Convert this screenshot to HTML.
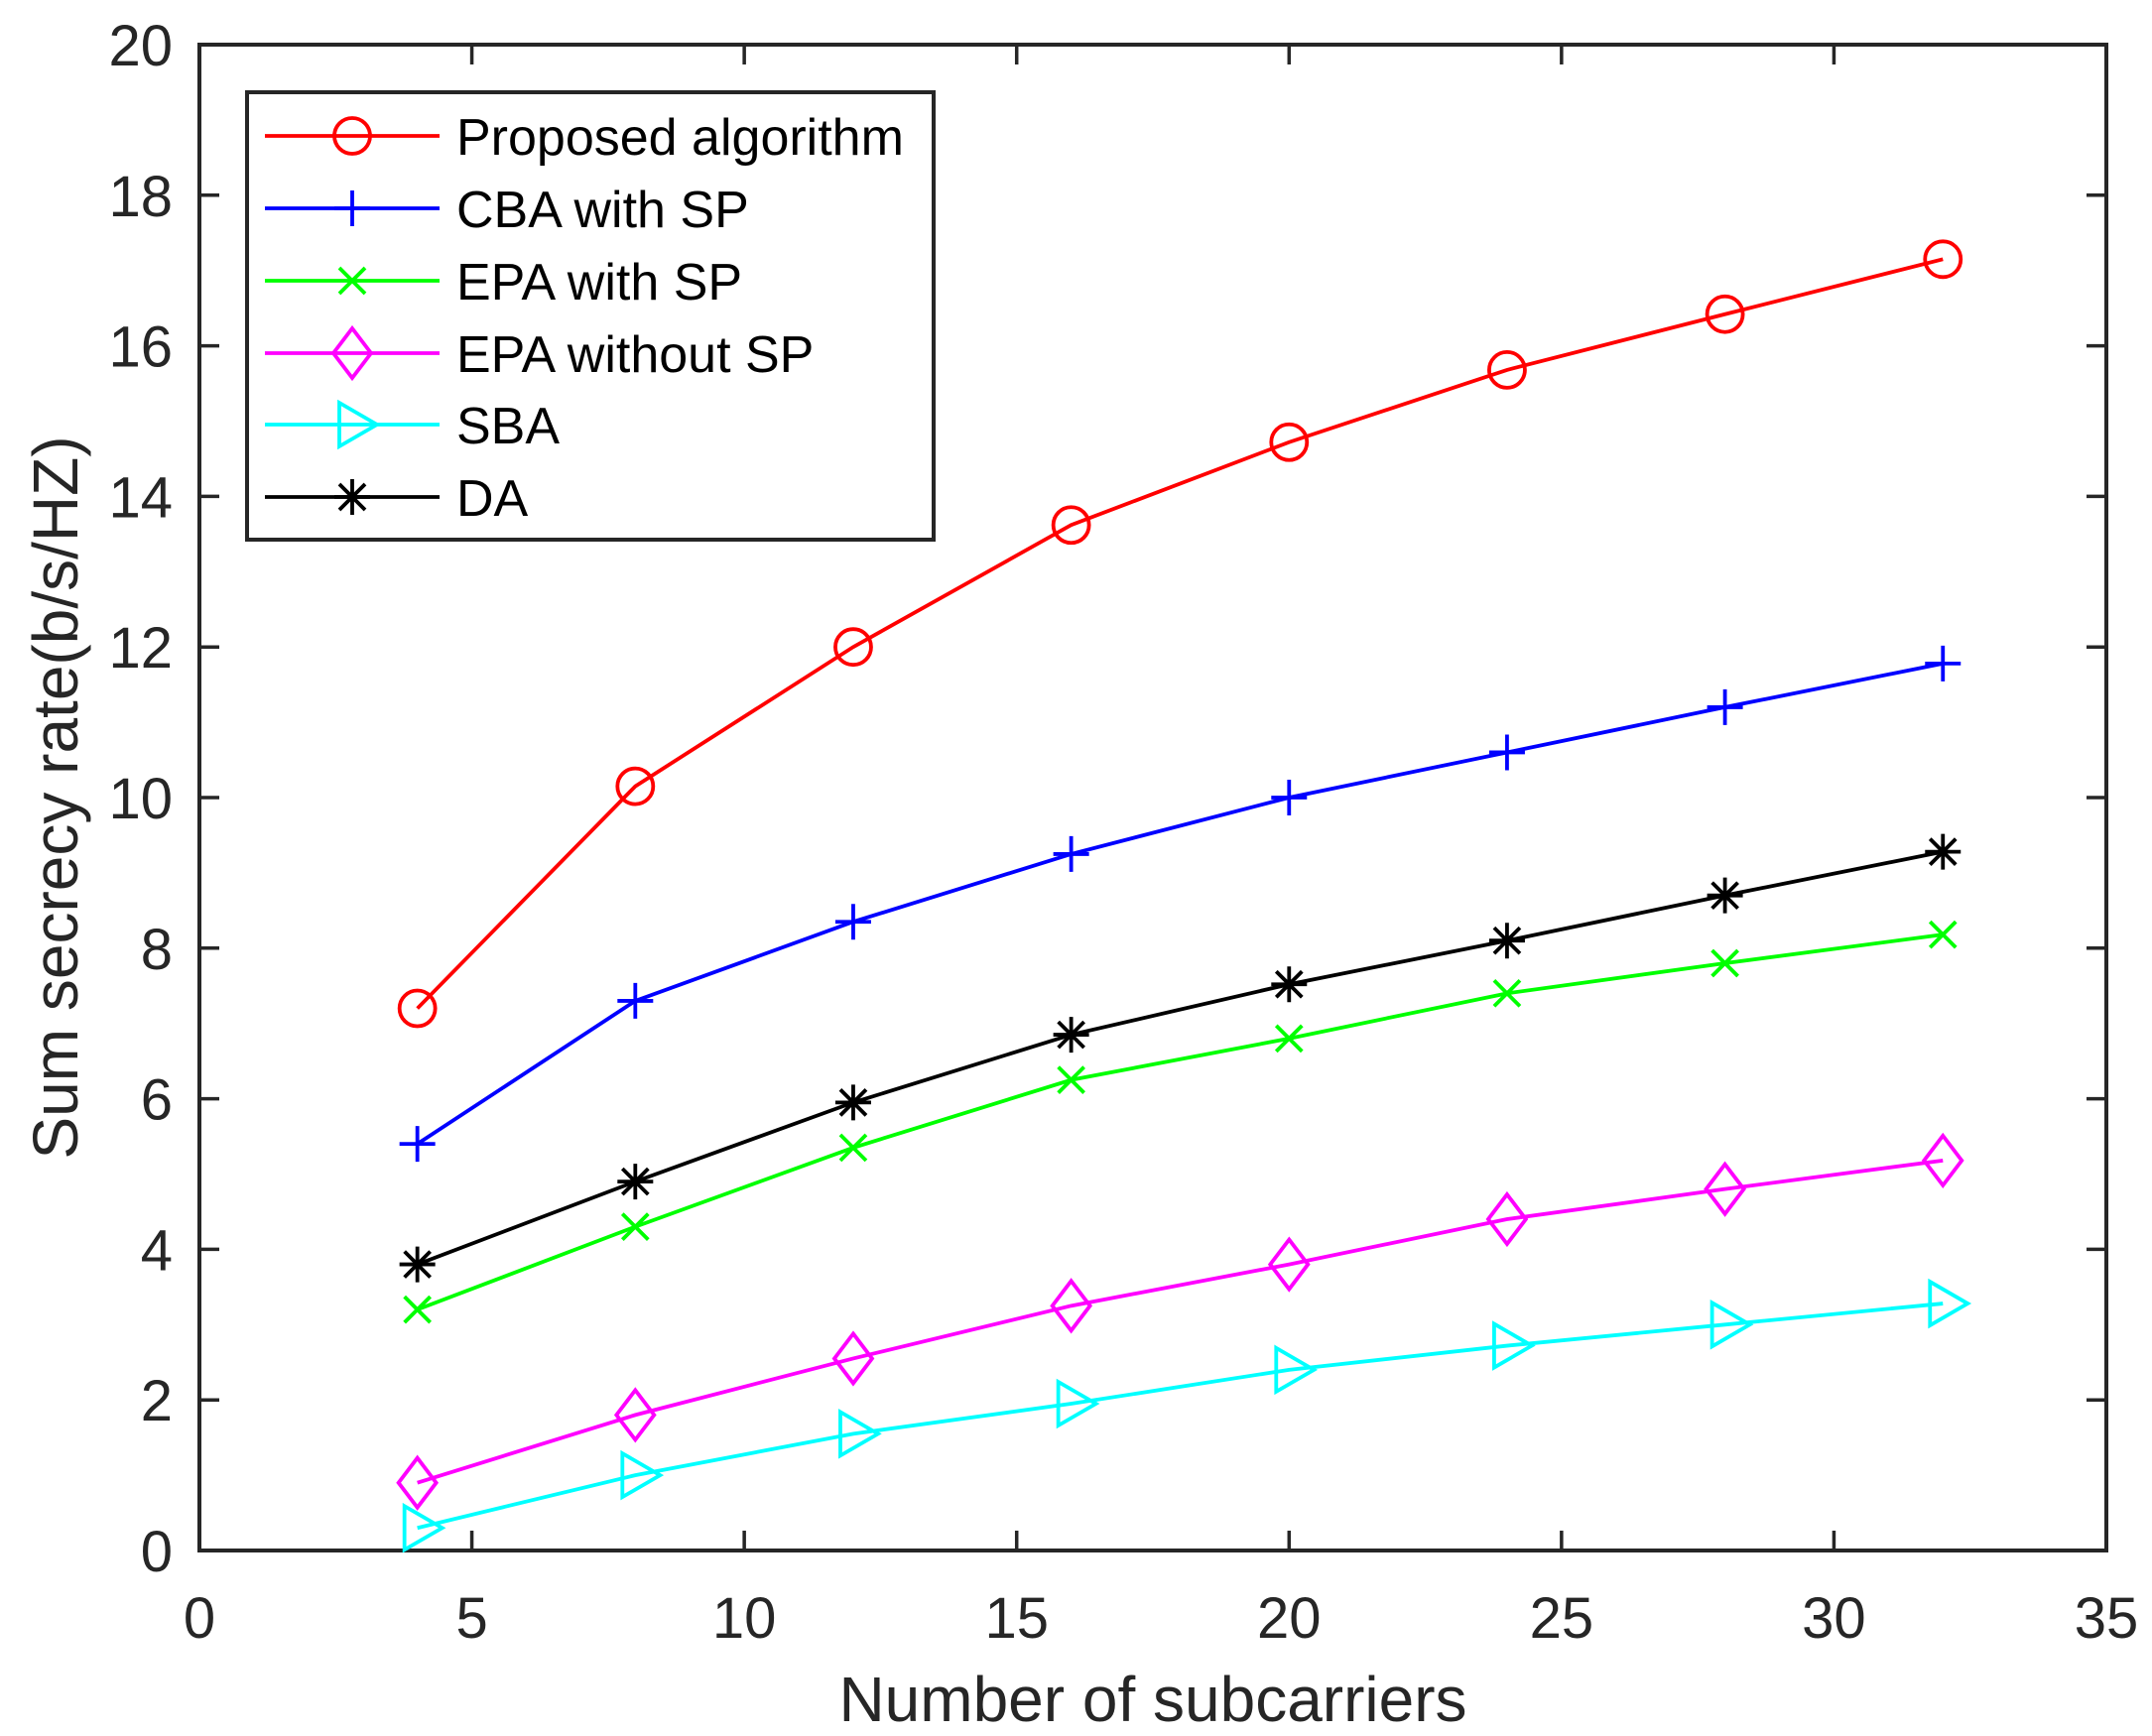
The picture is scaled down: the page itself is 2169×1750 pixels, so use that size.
<!DOCTYPE html>
<html><head><meta charset="utf-8"><style>
html,body{margin:0;padding:0;background:#fff;}
svg{display:block;font-family:"Liberation Sans",Arial,sans-serif;}
</style></head><body>
<svg id="chart" width="2169" height="1750" viewBox="0 0 2169 1750" xmlns="http://www.w3.org/2000/svg">
<rect width="2169" height="1750" fill="#fff"/>
<g id="plot"></g>
</svg>
<script>
const xValues = [4, 8, 12, 16, 20, 24, 28, 32];
const proposed = [7.2, 10.15, 12.0, 13.62, 14.72, 15.68, 16.42, 17.15];
const cbaSP = [5.4, 7.3, 8.35, 9.25, 10.0, 10.6, 11.2, 11.78];
const epaSP = [3.2, 4.3, 5.35, 6.25, 6.8, 7.4, 7.8, 8.18];
const epaNoSP = [0.9, 1.8, 2.55, 3.25, 3.8, 4.4, 4.8, 5.18];
const sba = [0.3, 1.0, 1.55, 1.95, 2.4, 2.72, 3.0, 3.28];
const da = [3.8, 4.9, 5.95, 6.85, 7.52, 8.1, 8.7, 9.28];
const xTicks = [0, 5, 10, 15, 20, 25, 30, 35];
const yTicks = [0, 2, 4, 6, 8, 10, 12, 14, 16, 18, 20];
const seriesNames = ["Proposed algorithm", "CBA with SP", "EPA with SP", "EPA without SP", "SBA", "DA"];

const L=201,R=2123,T=45,B=1563;
const sx=v=>L+(v-0)/(35-0)*(R-L);
const sy=v=>B-(v-0)/(20-0)*(B-T);
const NS="http://www.w3.org/2000/svg";
const g=document.getElementById('plot');
function mk(tag,attrs,parent){const e=document.createElementNS(NS,tag);for(const k in attrs)e.setAttribute(k,attrs[k]);(parent||g).appendChild(e);return e;}

const series=[
 {data:proposed,color:"#ff0000",m:"circle",key:"proposed"},
 {data:cbaSP,color:"#0000ff",m:"plus",key:"cba-with-sp"},
 {data:epaSP,color:"#00ff00",m:"x",key:"epa-with-sp"},
 {data:epaNoSP,color:"#ff00ff",m:"diamond",key:"epa-without-sp"},
 {data:sba,color:"#00ffff",m:"tri",key:"sba"},
 {data:da,color:"#000000",m:"star",key:"da"}
];
const SW=3.8;
function marker(type,x,y,c,parent){
 const s={fill:"none",stroke:c,"stroke-width":SW};
 let e;
 if(type==="circle"){e=mk('circle',Object.assign({cx:x,cy:y,r:18},s),parent);}
 else if(type==="plus"){e=mk('path',Object.assign({d:`M${x-18} ${y}H${x+18}M${x} ${y-18}V${y+18}`},s),parent);}
 else if(type==="x"){e=mk('path',Object.assign({d:`M${x-13} ${y-13}L${x+13} ${y+13}M${x-13} ${y+13}L${x+13} ${y-13}`},s),parent);}
 else if(type==="diamond"){e=mk('path',Object.assign({d:`M${x} ${y-25}L${x+19} ${y}L${x} ${y+25}L${x-19} ${y}Z`},s),parent);}
 else if(type==="tri"){e=mk('path',Object.assign({d:`M${x-13} ${y-22}L${x+25} ${y}L${x-13} ${y+22}Z`},s),parent);}
 else {e=mk('path',Object.assign({d:`M${x-18} ${y}H${x+18}M${x} ${y-18}V${y+18}M${x-13} ${y-13}L${x+13} ${y+13}M${x-13} ${y+13}L${x+13} ${y-13}`},s),parent);}
 return e;
}
const box=mk('rect',{x:L,y:T,width:R-L,height:B-T,fill:"none",stroke:"#262626","stroke-width":4});


xTicks.forEach(v=>{
 const x=sx(v);
 const t=mk('path',{d:`M${x} ${B}V${B-20}M${x} ${T}V${T+20}`,stroke:"#262626","stroke-width":3.5});
 
 
 const l=mk('text',{x:x,y:1651,"font-size":58,"text-anchor":"middle",fill:"#262626"});
 l.textContent=v;
 
 
});
yTicks.forEach(v=>{
 const y=sy(v);
 const t=mk('path',{d:`M${L} ${y}H${L+20}M${R} ${y}H${R-20}`,stroke:"#262626","stroke-width":3.5});
 
 
 const l=mk('text',{x:174,y:y+21,"font-size":58,"text-anchor":"end",fill:"#262626"});
 l.textContent=v;
 
 
});
series.forEach(s=>{
 const sg=mk('g',{});
 
 
 const pts=s.data.map((v,i)=>sx(xValues[i])+","+sy(v)).join(" ");
 const pl=mk('polyline',{points:pts,fill:"none",stroke:s.color,"stroke-width":SW},sg);
 
 
 s.data.forEach((v,i)=>{
  const m=marker(s.m,sx(xValues[i]),sy(v),s.color,sg);
  
  
 });
});
const lg=mk('g',{});


mk('rect',{x:249,y:93,width:692,height:451,fill:"#fff",stroke:"#262626","stroke-width":4},lg);
const rowY=[137,210,283,356,428,501];
series.forEach((s,i)=>{
 const eg=mk('g',{},lg);
 
 
 mk('path',{d:`M267 ${rowY[i]}H443`,stroke:s.color,"stroke-width":SW},eg);
 marker(s.m,355,rowY[i],s.color,eg);
 const t=mk('text',{x:460,y:rowY[i]+19,"font-size":52,fill:"#000"},eg);
 t.textContent=seriesNames[i];
});
const xt=mk('text',{x:1162,y:1735,"font-size":64,"text-anchor":"middle",fill:"#262626"});
xt.textContent="Number of subcarriers";


const yt=mk('text',{x:0,y:0,"font-size":64,"text-anchor":"middle",fill:"#262626",transform:"translate(78,804) rotate(-90)"});
yt.textContent="Sum secrecy rate(b/s/HZ)";


</script>
</body></html>
